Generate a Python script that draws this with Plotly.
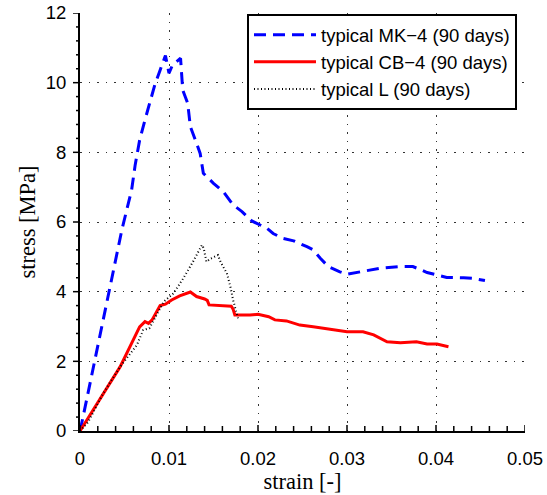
import plotly.graph_objects as go

# MK-4 (blue dashed)
mk4_strain = [0, 0.00034, 0.0047, 0.0058, 0.0062, 0.0067, 0.0073, 0.0079, 0.0084, 0.0090, 0.0096,
              0.0100, 0.0104, 0.0113, 0.01145, 0.01154, 0.0121, 0.0122, 0.0124, 0.0131, 0.0135,
              0.01386, 0.0150, 0.0161, 0.0172, 0.0182, 0.0193, 0.0210, 0.0217, 0.0228, 0.0240,
              0.0255, 0.0262, 0.0270, 0.0279, 0.0292, 0.0300, 0.0315, 0.0337, 0.0360, 0.0374,
              0.0382, 0.0390, 0.0401, 0.0412, 0.0431, 0.0442, 0.0455]
mk4_stress = [0, 0.4, 5.77, 6.92, 7.64, 8.35, 8.93, 9.45, 9.93, 10.36, 10.78,
              10.27, 10.51, 10.70, 10.17, 9.79, 9.41, 9.22, 8.74, 8.26, 7.97,
              7.40, 7.11, 6.87, 6.49, 6.30, 6.03, 5.82, 5.67, 5.53, 5.46,
              5.29, 5.20, 4.96, 4.72, 4.57, 4.50, 4.57, 4.67, 4.72, 4.72,
              4.64, 4.55, 4.48, 4.41, 4.40, 4.38, 4.32]

# CB-4 (red solid)
cb4_strain = [0, 0.0045, 0.0067, 0.0073, 0.0077, 0.0081, 0.0090, 0.0096, 0.0103, 0.0112, 0.0124,
              0.0131, 0.0140, 0.0143, 0.0145, 0.0154, 0.0170, 0.0172, 0.0174, 0.0191, 0.0200,
              0.0212, 0.0219, 0.0232, 0.0247, 0.0262, 0.0281, 0.0300, 0.0318, 0.0330, 0.0345,
              0.0360, 0.0378, 0.0390, 0.0401, 0.0414]
cb4_stress = [0, 1.84, 2.99, 3.14, 3.09, 3.19, 3.60, 3.64, 3.76, 3.88, 3.99,
              3.86, 3.79, 3.75, 3.62, 3.60, 3.58, 3.50, 3.33, 3.33, 3.35,
              3.28, 3.19, 3.16, 3.04, 2.99, 2.92, 2.85, 2.85, 2.76, 2.56,
              2.53, 2.56, 2.50, 2.50, 2.42]

# L (black dotted)
l_strain = [0, 0.0009, 0.0026, 0.0045, 0.0064, 0.0071, 0.0078, 0.0086, 0.0094, 0.0105, 0.0116,
            0.0127, 0.0137, 0.0139, 0.0142, 0.0147, 0.0155, 0.0158, 0.0165, 0.0169, 0.0172,
            0.0176, 0.0178]
l_stress = [0, 0.25, 1.08, 1.84, 2.47, 2.90, 2.95, 3.35, 3.71, 3.95, 4.38,
            4.86, 5.34, 5.25, 4.86, 4.95, 5.05, 4.85, 4.53, 4.14, 3.76,
            3.38, 3.19]

# Axis tick positions (major / minor)
x_major = [0, 0.01, 0.02, 0.03, 0.04, 0.05]
x_minor_step = 0.002
y_major = [0, 2, 4, 6, 8, 10, 12]
y_minor_step = 0.4

fig = go.Figure()
fig.add_trace(go.Scatter(x=mk4_strain, y=mk4_stress, mode="lines",
                         name="typical MK\u22124 (90 days)",
                         line=dict(color="#0000ff", width=3, dash="12px,7px")))
fig.add_trace(go.Scatter(x=cb4_strain, y=cb4_stress, mode="lines",
                         name="typical CB\u22124 (90 days)",
                         line=dict(color="#ff0000", width=3)))
fig.add_trace(go.Scatter(x=l_strain, y=l_stress, mode="lines",
                         name="typical L (90 days)",
                         line=dict(color="#000000", width=2, dash="1px,2.5px")))

# tick marks drawn as pixel-sized shapes anchored at the axis values
x_minor = [round(i * x_minor_step, 6) for i in range(int(round(x_major[-1] / x_minor_step)) + 1)]
y_minor = [round(i * y_minor_step, 6) for i in range(int(round(y_major[-1] / y_minor_step)) + 1)]
for v in x_minor:
    ln = 6 if any(abs(v - m) < 1e-9 for m in x_major) else 5
    fig.add_shape(type="line", xref="x", yref="paper", x0=v, x1=v,
                  ysizemode="pixel", yanchor=0, y0=0, y1=ln,
                  line=dict(color="black", width=1.5), layer="above")
for v in y_minor:
    ln = 7 if any(abs(v - m) < 1e-9 for m in y_major) else 4
    fig.add_shape(type="line", xref="paper", yref="y", y0=v, y1=v,
                  xsizemode="pixel", xanchor=0, x0=-ln, x1=0,
                  line=dict(color="black", width=1.5), layer="above")

tick_font = dict(family="Liberation Sans, Arial, sans-serif", size=18.5, color="black")
title_font = dict(family="Liberation Serif, Times New Roman, serif", size=22.5, color="black")

fig.update_layout(
    width=547, height=495,
    margin=dict(l=80, r=22, t=13, b=64),
    plot_bgcolor="white", paper_bgcolor="white",
    showlegend=True,
    legend=dict(x=0.982, y=0.997, xanchor="right", yanchor="top",
                bgcolor="white", bordercolor="black", borderwidth=2,
                font=dict(family="Liberation Sans, Arial, sans-serif", size=18.5, color="black"),
                itemwidth=62, tracegroupgap=0),
    xaxis=dict(range=[0, 0.05], tickvals=x_major, ticktext=[str(v) if v else "0" for v in x_major],
               automargin=False,
               showline=True, linecolor="black", linewidth=2,
               ticks="outside", ticklen=10, tickwidth=1, tickcolor="rgba(0,0,0,0)",
               showgrid=True, gridcolor="#333333", gridwidth=1.2, griddash="1.5px,7px",
               zeroline=False, tickfont=tick_font,
               title=dict(text="strain [-]", font=title_font, standoff=4)),
    yaxis=dict(range=[0, 12], tickvals=y_major, automargin=False,
               showline=True, linecolor="black", linewidth=2,
               ticks="outside", ticklen=8, tickwidth=1, tickcolor="rgba(0,0,0,0)",
               showgrid=True, gridcolor="#333333", gridwidth=1.2, griddash="1.5px,7px",
               zeroline=False, tickfont=tick_font,
               title=dict(text="stress [MPa]", font=title_font, standoff=4)),
)

fig.write_html("out.html")
